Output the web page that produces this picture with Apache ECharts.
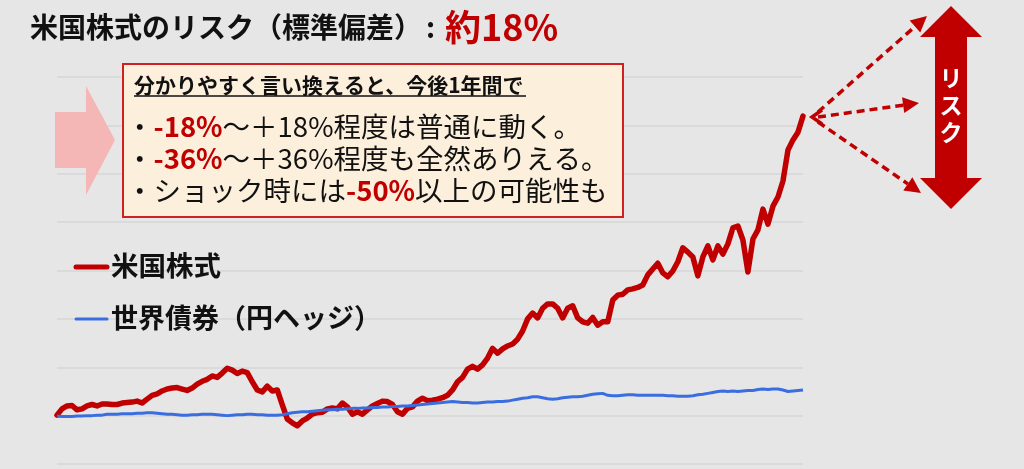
<!DOCTYPE html>
<html><head><meta charset="utf-8">
<script src="https://cdn.jsdelivr.net/npm/echarts@6/dist/echarts.min.js"></script>
<style>html,body{margin:0;padding:0;background:#e6e6e6}#c{width:1024px;height:469px}</style>
</head><body><div id="c"></div>
<script>
// US stocks index (start = 100)
const usStocks = [
101,114,120,121,112,114,120,123,120,124,
124,123,123,126,127,128,130,126,134,142,
145,151,155,157,158,155,152,157,165,171,
175,182,179,188,198,194,187,192,189,170,
153,149,161,151,153,122,93,85,79,89,
95,103,106,107,114,116,114,126,118,103,
108,103,112,120,125,130,129,123,108,103,
115,118,130,136,131,132,134,137,142,153,
170,179,196,202,196,205,219,239,229,238,
244,248,258,275,300,312,302,322,331,331,
322,302,322,327,302,294,291,303,287,294,
294,339,349,351,360,362,365,370,391,403,
415,395,387,399,418,447,438,428,389,428,
451,422,451,434,455,488,492,463,397,465,
484,527,496,533,552,585,649,670,686,719];
// World bonds (yen hedged) index (start = 100)
const worldBonds = [
99,98,98,98,99,99,100,100,101,101,
103,103,103,104,104,104,105,105,106,106,
105,104,103,103,102,101,101,102,102,103,
103,103,102,101,100,101,102,102,103,103,
102,102,101,101,101,102,104,106,107,108,
108,109,110,111,112,112,113,113,114,115,
115,116,116,117,117,118,118,119,119,120,
120,121,122,123,124,125,126,127,128,129,
128,127,127,126,126,127,128,128,129,129,
130,132,134,136,137,139,139,137,135,134,
135,137,138,139,139,140,142,144,145,146,
142,141,141,142,143,143,142,142,142,142,
142,142,141,141,140,140,140,141,143,144,
146,148,150,151,150,151,150,151,152,152,
154,155,154,155,155,153,150,151,152,153];
const periods = usStocks.map((_, i) => i);
const yMin = 0, yMax = 800, yStep = 100;
const seriesNames = ['米国株式', '世界債券（円ヘッジ）'];
const titleMain = '米国株式のリスク（標準偏差）';
const titleRisk = '約18%';
const noteHead = '分かりやすく言い換えると、今後1年間で';
const noteLines = [
  ['・', '-18%', '～＋18%程度は普通に動く。'],
  ['・', '-36%', '～＋36%程度も全然ありえる。'],
  ['・ショック時には', '-50%', '以上の可能性も']
];
const riskLabel = 'リスク';

const FONT = "'Noto Sans CJK JP','Noto Sans',sans-serif";
const RED = '#c00000';
const BLUE = '#3a6ee0';

function arrow(x1, y1, x2, y2, len, half, w) {
  const a = Math.atan2(y2 - y1, x2 - x1);
  const bx = x2 - len * Math.cos(a), by = y2 - len * Math.sin(a);
  return [
    {type: 'line', z: 50, shape: {x1: x1, y1: y1, x2: bx, y2: by},
     style: {stroke: RED, lineWidth: w, lineDash: [8, 5]}},
    {type: 'polygon', z: 50, shape: {points: [[x2, y2],
      [bx + half * Math.sin(a), by - half * Math.cos(a)],
      [bx - half * Math.sin(a), by + half * Math.cos(a)]]},
     style: {fill: RED}}
  ];
}

const chart = echarts.init(document.getElementById('c'), null, {renderer: 'canvas'});
const graphics = [];
// title
graphics.push({type: 'text', z: 50, style: {
  x: 30, y: 27, verticalAlign: 'middle',
  text: '{a|' + titleMain + '}{c|:}{b|' + titleRisk + '}',
  rich: {
    a: {fontSize: 28, fontWeight: 'bold', fill: '#111', fontFamily: FONT},
    c: {fontSize: 28, fontWeight: 'bold', fill: '#111', fontFamily: FONT, padding: [0, 10, 0, 4]},
    b: {fontSize: 36, fontWeight: 'bold', fill: RED, fontFamily: FONT}
  }
}});
// pink arrow
graphics.push({type: 'polygon', z: 40, shape: {points: [[55,112],[86,112],[86,86],[115,140],[86,195],[86,168],[55,168]]},
  style: {fill: '#f5b6b6'}});
// note box
graphics.push({type: 'rect', z: 41, shape: {x: 123, y: 64, width: 500, height: 153},
  style: {fill: '#fcefdc', stroke: '#d02020', lineWidth: 2}});
graphics.push({type: 'text', z: 42, style: {x: 134, y: 85, verticalAlign: 'middle', text: noteHead,
  font: 'bold 21px ' + FONT, fill: '#111'}});
graphics.push({type: 'line', z: 42, shape: {x1: 134, y1: 96, x2: 526, y2: 96}, style: {stroke: '#111', lineWidth: 1.5}});
const lineYs = [127, 159, 191];
noteLines.forEach((p, k) => {
  graphics.push({type: 'text', z: 42, style: {
    x: 126, y: lineYs[k], verticalAlign: 'middle',
    text: '{n|' + p[0] + '}{r|' + p[1] + '}{n|' + p[2] + '}',
    rich: {
      n: {fontSize: 27.5, fill: '#111', fontFamily: FONT},
      r: {fontSize: 27.5, fontWeight: 'bold', fill: RED, fontFamily: FONT}
    }
  }});
});
// legend
graphics.push({type: 'line', z: 42, shape: {x1: 76, y1: 267, x2: 107, y2: 267}, style: {stroke: RED, lineWidth: 5, lineCap: 'round'}});
graphics.push({type: 'text', z: 42, style: {x: 111, y: 266, verticalAlign: 'middle', text: seriesNames[0], font: 'bold 27.5px ' + FONT, fill: '#111'}});
graphics.push({type: 'line', z: 42, shape: {x1: 76, y1: 319, x2: 107, y2: 319}, style: {stroke: BLUE, lineWidth: 3, lineCap: 'round'}});
graphics.push({type: 'text', z: 42, style: {x: 111, y: 318, verticalAlign: 'middle', text: seriesNames[1], font: 'bold 27px ' + FONT, fill: '#111'}});
// dashed arrows
const sx = 812, sy = 117;
graphics.push(...arrow(sx + 6, sy - 5, 927, 16, 16, 8, 3.5));
graphics.push(...arrow(sx + 6, sy, 919, 103, 16, 8, 3.5));
graphics.push(...arrow(sx + 6, sy + 5, 921, 193, 16, 8, 3.5));
graphics.push({type: 'polyline', z: 50, shape: {points: [[822, 110], [812, 117], [822, 124]]},
  style: {stroke: RED, lineWidth: 3.5, fill: null}});
// big double arrow
graphics.push({type: 'polygon', z: 50, shape: {points: [[951,6],[982,37],[967,37],[967,178],[982,178],[951,209],[920,178],[935,178],[935,37],[920,37]]},
  style: {fill: RED}});
graphics.push({type: 'text', z: 51, style: {x: 951, y: 105, align: 'center', verticalAlign: 'middle',
  text: riskLabel.split('').join('\n'), font: 'bold 23px ' + FONT, lineHeight: 27, fill: '#fff'}});

chart.setOption({
  animation: false,
  backgroundColor: '#e6e6e6',
  grid: {left: 57, right: 221, top: 77, bottom: 5, containLabel: false},
  xAxis: {type: 'category', data: periods, boundaryGap: false,
    axisLine: {show: false}, axisTick: {show: false}, axisLabel: {show: false}, splitLine: {show: false}},
  yAxis: {type: 'value', min: yMin, max: yMax, interval: yStep,
    axisLine: {show: false}, axisTick: {show: false}, axisLabel: {show: false},
    splitLine: {show: true, lineStyle: {color: '#d6d6d6', width: 1.5}}},
  series: [
    {name: seriesNames[0], type: 'line', data: usStocks, showSymbol: false, symbol: 'none',
     lineStyle: {color: RED, width: 5.5, join: 'round', cap: 'round'}, z: 3},
    {name: seriesNames[1], type: 'line', data: worldBonds, showSymbol: false, symbol: 'none',
     lineStyle: {color: BLUE, width: 3}, z: 4}
  ],
  graphic: graphics
});
</script></body></html>
